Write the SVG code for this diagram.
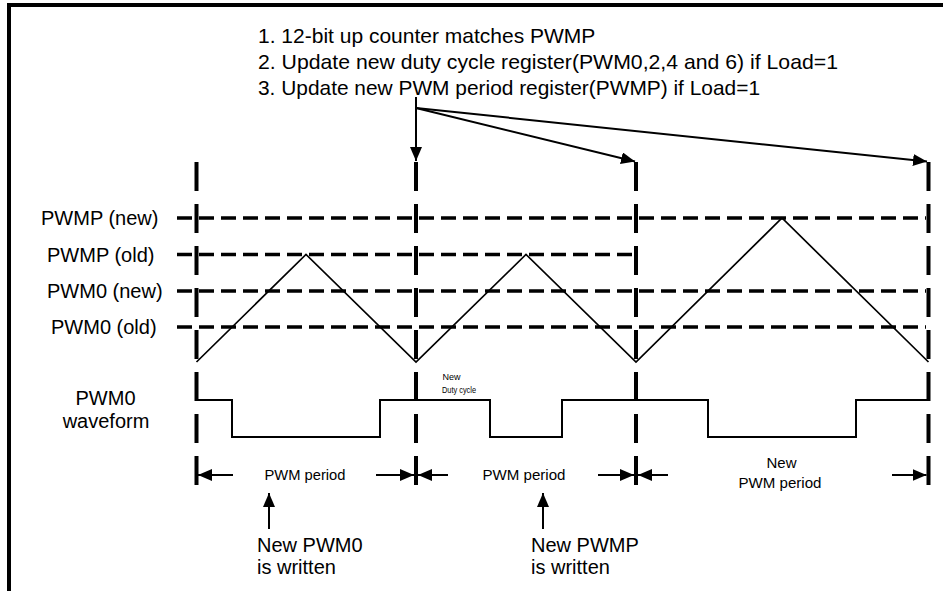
<svg xmlns="http://www.w3.org/2000/svg" width="948" height="591" viewBox="0 0 948 591">
<style>
text{font-family:"Liberation Sans",Arial,sans-serif;fill:#000}
.big{font-size:20px}
.top{font-size:21px}
.dim{font-size:15px;text-anchor:middle}
.tiny{font-size:9px;text-anchor:middle}
.vdash{stroke:#000;stroke-width:4;stroke-dasharray:29 13;fill:none}
.hdash{stroke:#000;stroke-width:3.5;stroke-dasharray:15 7;fill:none}
.tri{stroke:#000;stroke-width:1.7;fill:none}
.wave{stroke:#000;stroke-width:2;fill:none}
.arr{stroke:#000;stroke-width:2;fill:none;marker-end:url(#ah)}
.frame{stroke:#000;stroke-width:4;fill:none}
</style>
<defs>
<marker id="ah" markerUnits="userSpaceOnUse" markerWidth="14" markerHeight="12" refX="14" refY="6" orient="auto" viewBox="0 0 14 12">
<path d="M0,0 L14,6 L0,12 z" fill="#000"/>
</marker>
</defs>
<rect width="948" height="591" fill="#fff"/>
<g id="frame">
<path class="frame" d="M9,591 V5 H943"/>
</g>
<g id="notes">
<text class="top" x="258" y="43">1. 12-bit up counter matches PWMP</text>
<text class="top" x="258" y="69" textLength="580" lengthAdjust="spacingAndGlyphs">2. Update new duty cycle register(PWM0,2,4 and 6) if Load=1</text>
<text class="top" x="258" y="95" textLength="502" lengthAdjust="spacingAndGlyphs">3. Update new PWM period register(PWMP) if Load=1</text>
</g>
<g id="level-labels">
<text class="big" x="41" y="225">PWMP (new)</text>
<text class="big" x="47" y="261.5">PWMP (old)</text>
<text class="big" x="47" y="298">PWM0 (new)</text>
<text class="big" x="51" y="334">PWM0 (old)</text>
<text class="big" x="105.5" y="405" text-anchor="middle">PWM0</text>
<text class="big" x="106" y="428" text-anchor="middle">waveform</text>
</g>
<g id="levels">
<line class="hdash" x1="177" y1="218" x2="926" y2="218"/>
<line class="hdash" x1="177" y1="254.5" x2="636" y2="254.5"/>
<line class="hdash" x1="177" y1="291" x2="926" y2="291"/>
<line class="hdash" x1="177" y1="327" x2="926" y2="327"/>
</g>
<g id="period-markers">
<line class="vdash" x1="196.5" y1="162" x2="196.5" y2="485"/>
<line class="vdash" x1="416" y1="162" x2="416" y2="485"/>
<line class="vdash" x1="636" y1="162" x2="636" y2="485"/>
<line class="vdash" x1="928.5" y1="162" x2="928.5" y2="485"/>
</g>
<g id="counter">
<polyline class="tri" points="196.5,362 306,254.5 416,362 526,254.5 636,362 782,218 928.5,362"/>
</g>
<g id="pwm0-waveform">
<polyline class="wave" points="196.5,400 232,400 232,437 380,437 380,400 490,400 490,437 562,437 562,400 708,400 708,437 856,437 856,400 928.5,400"/>
<text class="tiny" x="451.5" y="380">New</text>
<text class="tiny" x="459" y="393" textLength="34" lengthAdjust="spacingAndGlyphs">Duty cycle</text>
</g>
<g id="periods">
<text class="dim" x="305" y="479.5" textLength="81" lengthAdjust="spacingAndGlyphs">PWM period</text>
<text class="dim" x="524" y="479.5" textLength="83" lengthAdjust="spacingAndGlyphs">PWM period</text>
<text class="dim" x="781.5" y="468">New</text>
<text class="dim" x="780" y="488" textLength="83" lengthAdjust="spacingAndGlyphs">PWM period</text>
</g>
<g id="write-notes">
<text class="big" x="257" y="552">New PWM0</text>
<text class="big" x="257" y="573.5">is written</text>
<text class="big" x="531" y="552">New PWMP</text>
<text class="big" x="531" y="573.5">is written</text>
</g>
<g id="connectors">
<line class="arr" x1="416" y1="97" x2="416" y2="161"/>
<line class="arr" x1="416" y1="108" x2="635" y2="161.5"/>
<line class="arr" x1="416" y1="108" x2="927" y2="161.5"/>
<line class="arr" x1="233" y1="475" x2="198" y2="475"/>
<line class="arr" x1="376" y1="475" x2="414" y2="475"/>
<line class="arr" x1="448" y1="475" x2="418" y2="475"/>
<line class="arr" x1="598" y1="475" x2="634" y2="475"/>
<line class="arr" x1="668" y1="475" x2="638" y2="475"/>
<line class="arr" x1="892" y1="475" x2="926.5" y2="475"/>
<line class="arr" x1="269" y1="529" x2="269" y2="493"/>
<line class="arr" x1="543" y1="529" x2="543" y2="493"/>
</g>
</svg>
